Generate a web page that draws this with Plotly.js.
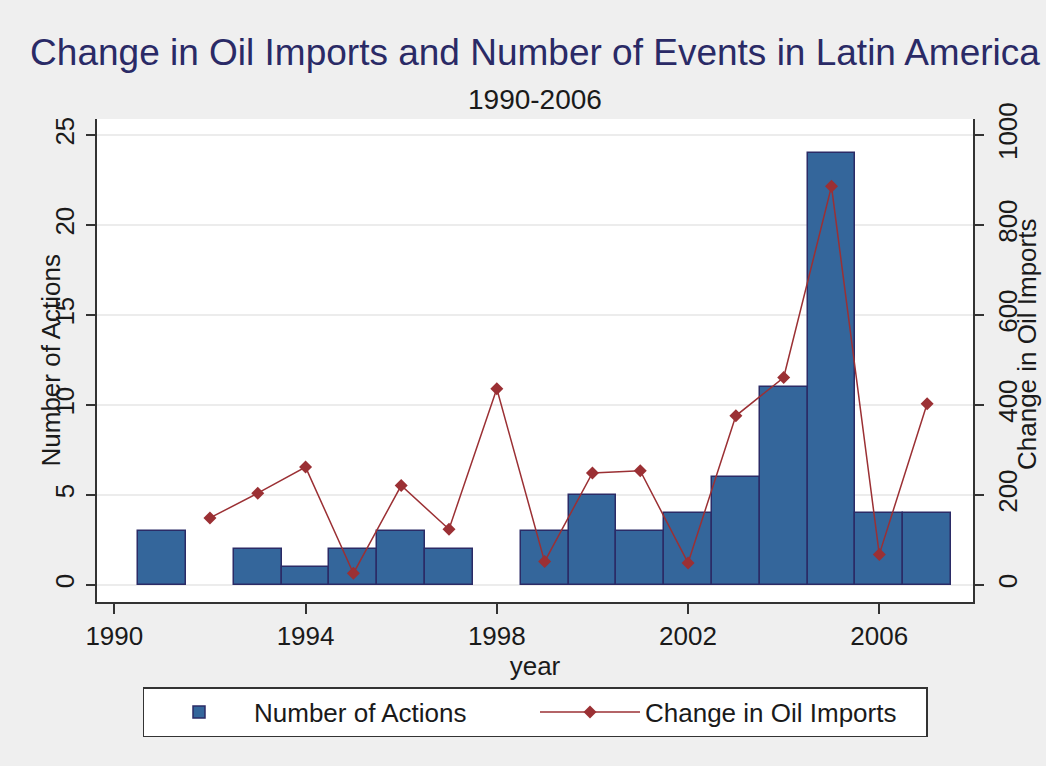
<!DOCTYPE html>
<html>
<head>
<meta charset="utf-8">
<script src="https://cdn.plot.ly/plotly-3.0.1.min.js"></script>
<style>
  html, body { margin: 0; padding: 0; background: #efefef; }
  #chart { width: 1046px; height: 766px; }
</style>
</head>
<body>
<div id="chart"></div>
<script>
// Number of Actions (bars)
const barYears = [1991, 1993, 1994, 1995, 1996, 1997, 1999, 2000, 2001, 2002, 2003, 2004, 2005, 2006, 2007];
const actions  = [3, 2, 1, 2, 3, 2, 3, 5, 3, 4, 6, 11, 24, 4, 4];

// Change in Oil Imports (line)
const lineYears = [1992, 1993, 1994, 1995, 1996, 1997, 1998, 1999, 2000, 2001, 2002, 2003, 2004, 2005, 2006, 2007];
const oilChange = [149, 204, 262, 26, 221, 124, 436, 52, 249, 254, 49, 376, 461, 886, 68, 403];

const xTicks  = [1990, 1994, 1998, 2002, 2006];
const yTicks  = [0, 5, 10, 15, 20, 25];
const y2Ticks = [0, 200, 400, 600, 800, 1000];

const FONT = "Liberation Sans, Arial, sans-serif";
const AXIS = '#333333';
const TXT = '#1a1a1a';

const traces = [
  {
    type: 'bar',
    name: 'Number of Actions',
    x: barYears,
    y: actions,
    width: 1,
    marker: { color: '#34669b', line: { color: '#2b2b66', width: 1.5 } },
    yaxis: 'y'
  },
  {
    type: 'scatter',
    mode: 'lines+markers',
    name: 'Change in Oil Imports',
    x: lineYears,
    y: oilChange,
    line: { color: '#9b3034', width: 1.5 },
    marker: { symbol: 'diamond', size: 10, color: '#9b3034' },
    yaxis: 'y2'
  }
];

const layout = {
  width: 1046,
  height: 766,
  paper_bgcolor: '#efefef',
  plot_bgcolor: '#ffffff',
  margin: { l: 97, r: 73, t: 119, b: 164 },
  font: { family: FONT, color: TXT, size: 26 },
  showlegend: true,
  bargap: 0,
  title: {
    text: 'Change in Oil Imports and Number of Events in Latin America',
    font: { family: FONT, size: 37, color: '#2a2a66' },
    x: 0.5, xref: 'paper', xanchor: 'center',
    y: 1 - 52 / 766, yref: 'container', yanchor: 'middle'
  },
  xaxis: {
    range: [1989.638, 2007.96],
    tickvals: xTicks,
    ticktext: xTicks.map(String),
    showgrid: false,
    zeroline: false,
    showline: true, linecolor: AXIS, linewidth: 2,
    ticks: 'outside', ticklen: 10, tickwidth: 1.5, tickcolor: AXIS,
    tickfont: { size: 26, color: TXT },
    title: { text: 'year', font: { size: 26, color: TXT }, standoff: 2 }
  },
  yaxis: {
    range: [-0.944, 25.89],
    tickvals: yTicks,
    tickangle: -90,
    showgrid: true, gridcolor: '#ececec', gridwidth: 1.5,
    zeroline: false,
    showline: true, linecolor: AXIS, linewidth: 2,
    ticks: 'outside', ticklen: 9, tickwidth: 1.5, tickcolor: AXIS,
    tickfont: { size: 26, color: TXT },
    ticklabelstandoff: 2
  },
  yaxis2: {
    range: [-37.8, 1035.6],
    tickvals: y2Ticks,
    tickangle: -90,
    overlaying: 'y',
    side: 'right',
    showgrid: false,
    zeroline: false,
    showline: true, linecolor: AXIS, linewidth: 2,
    ticks: 'outside', ticklen: 9, tickwidth: 1.5, tickcolor: AXIS,
    tickfont: { size: 26, color: TXT },
    ticklabelstandoff: 2
  },
  legend: {
    orientation: 'h',
    x: 0.5, xanchor: 'center',
    y: -(687 - 602) / 483, yanchor: 'top',
    bgcolor: '#ffffff',
    bordercolor: '#333333',
    borderwidth: 1.5,
    font: { size: 26, color: TXT },
    itemwidth: 100,
    entrywidth: 276,
    entrywidthmode: 'pixels',
    traceorder: 'normal'
  },
  annotations: [
    {
      text: '1990-2006',
      xref: 'paper', yref: 'paper',
      x: 0.5, y: 1 + (119 - 99) / 483,
      xanchor: 'center', yanchor: 'middle',
      showarrow: false,
      font: { size: 28, color: TXT }
    },
    {
      text: 'Number of Actions',
      xref: 'paper', yref: 'paper',
      x: (50 - 97) / 876, y: 0.5,
      xanchor: 'center', yanchor: 'middle',
      textangle: -90,
      showarrow: false,
      font: { size: 26, color: TXT }
    },
    {
      text: 'Change in Oil Imports',
      xref: 'paper', yref: 'paper',
      x: (1027 - 97) / 876, y: (602 - 345) / 483,
      xanchor: 'center', yanchor: 'middle',
      textangle: -90,
      showarrow: false,
      font: { size: 26, color: TXT }
    }
  ]
};

Plotly.newPlot('chart', traces, layout, { displayModeBar: false, responsive: false });
</script>
</body>
</html>
